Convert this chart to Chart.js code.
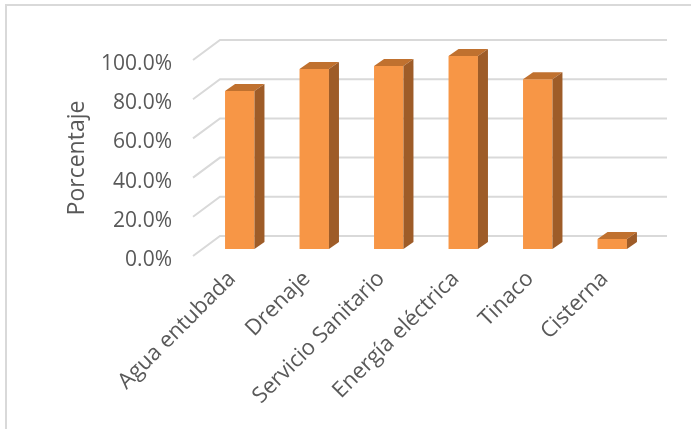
<!DOCTYPE html>
<html>
<head>
<meta charset="utf-8">
<script src="https://cdn.jsdelivr.net/npm/chart.js@4.4.1/dist/chart.umd.min.js"></script>
<style>
  html, body { margin: 0; padding: 0; background: #fff; }
  canvas { display: block; }
</style>
</head>
<body>
<canvas id="chart" width="691" height="429"></canvas>
<script>
const categories = ['Agua entubada', 'Drenaje', 'Servicio Sanitario', 'Energía eléctrica', 'Tinaco', 'Cisterna'];
const percentages = [80.6, 91.8, 93.4, 98.5, 86.6, 5.1];
const yTicks = [0, 20, 40, 60, 80, 100];

// fake 3D: back wall sits behind the front plane, bars a third of the way in
const wallDepth = { dx: 27, dy: -20 };
const barShift = { dx: 9.5, dy: -7 };
const barDepth = { dx: 10, dy: -7 };

const textColor = '#595959';
const gridColor = '#d9d9d9';

const frame = {
  id: 'frame',
  beforeDraw(chart) {
    const ctx = chart.ctx;
    ctx.save();
    ctx.strokeStyle = gridColor;
    ctx.lineWidth = 2;
    ctx.beginPath();
    ctx.moveTo(6, chart.height);
    ctx.lineTo(6, 5);
    ctx.lineTo(chart.width, 5);
    ctx.stroke();
    ctx.restore();
  }
};

const box3d = {
  id: 'box3d',
  beforeDatasetsDraw(chart) {
    const { ctx, chartArea: a, scales: { y } } = chart;
    ctx.save();
    ctx.strokeStyle = gridColor;
    ctx.lineWidth = 2;
    yTicks.forEach((v) => {
      const py = y.getPixelForValue(v);
      ctx.beginPath();
      ctx.moveTo(a.left, py);
      ctx.lineTo(a.left + wallDepth.dx, py + wallDepth.dy);
      ctx.lineTo(a.right + wallDepth.dx, py + wallDepth.dy);
      ctx.stroke();
    });
    ctx.restore();
    ctx.save();
    ctx.translate(barShift.dx, barShift.dy);
  },
  afterDatasetsDraw(chart) {
    const ctx = chart.ctx;
    chart.getDatasetMeta(0).data.forEach((bar) => {
      const { x, y, base, width } = bar.getProps(['x', 'y', 'base', 'width'], true);
      const l = x - width / 2;
      const r = x + width / 2;
      ctx.fillStyle = '#c0712f';
      ctx.beginPath();
      ctx.moveTo(l, y);
      ctx.lineTo(l + barDepth.dx, y + barDepth.dy);
      ctx.lineTo(r + barDepth.dx, y + barDepth.dy);
      ctx.lineTo(r, y);
      ctx.closePath();
      ctx.fill();
      ctx.fillStyle = '#9e5c28';
      ctx.beginPath();
      ctx.moveTo(r, y);
      ctx.lineTo(r + barDepth.dx, y + barDepth.dy);
      ctx.lineTo(r + barDepth.dx, base + barDepth.dy);
      ctx.lineTo(r, base);
      ctx.closePath();
      ctx.fill();
    });
    ctx.restore();
  }
};

new Chart(document.getElementById('chart'), {
  type: 'bar',
  data: {
    labels: categories,
    datasets: [{
      data: percentages,
      backgroundColor: '#f79646',
      borderWidth: 0,
      categoryPercentage: 1,
      barPercentage: 0.395,
      clip: false
    }]
  },
  options: {
    responsive: false,
    devicePixelRatio: 1,
    animation: false,
    layout: { padding: { left: 64, top: 60, right: 51, bottom: 0 } },
    plugins: { legend: { display: false }, tooltip: { enabled: false } },
    scales: {
      x: {
        grid: { display: false, drawTicks: false },
        border: { display: false },
        afterFit: (s) => { s.height = 173; },
        ticks: {
          autoSkip: false,
          minRotation: 45,
          maxRotation: 45,
          labelOffset: 2,
          padding: 10,
          color: textColor,
          font: { family: 'Open Sans', size: 22 }
        }
      },
      y: {
        min: 0,
        max: 100,
        grid: { display: false, drawTicks: false },
        border: { display: false },
        afterFit: (s) => { s.width = 129; },
        afterBuildTicks: (s) => { s.ticks = yTicks.map((v) => ({ value: v })); },
        title: {
          display: true,
          text: 'Porcentaje',
          color: textColor,
          padding: 0,
          font: { family: 'Open Sans', size: 23 }
        },
        ticks: {
          padding: 21,
          labelOffset: 4,
          color: textColor,
          font: { family: 'Open Sans', size: 21 },
          callback: (v) => v.toFixed(1) + '%'
        }
      }
    }
  },
  plugins: [frame, box3d]
});
</script>
</body>
</html>
